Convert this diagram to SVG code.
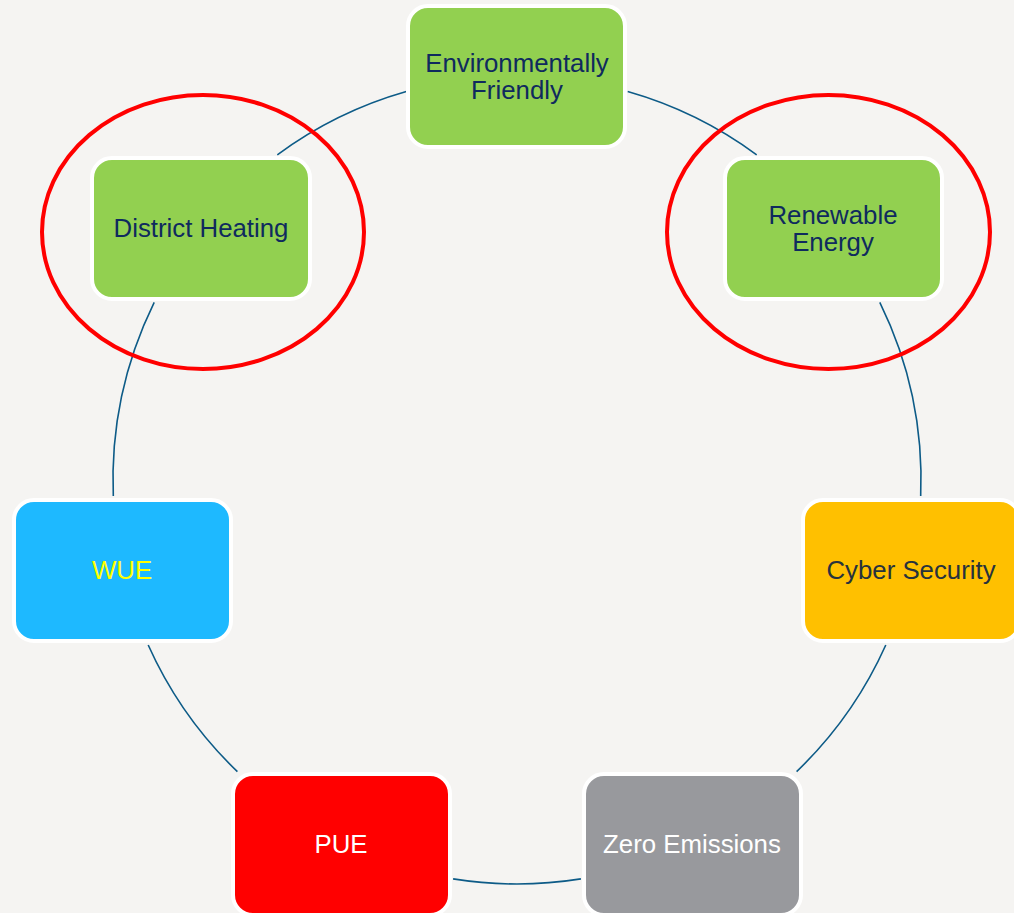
<svg xmlns="http://www.w3.org/2000/svg" width="1014" height="913" viewBox="0 0 1014 913">
<style>
.node{stroke:#ffffff;stroke-width:4}
.lbl{font-family:"Liberation Sans",Arial,sans-serif;font-size:25.8px;text-anchor:middle}
.dark{fill:#0f2a5e}
.arc{fill:none;stroke:#0d5b87;stroke-width:1.6}
.ring{fill:none;stroke:#ff0000;stroke-width:4}
</style>
<rect width="1014" height="913" fill="#f5f4f2"/>
<g id="connectors">
<path class="arc" d="M277.3 154.8 A404 404 0 0 1 406.3 91.5"/>
<path class="arc" d="M627.7 91.5 A404 404 0 0 1 756.7 154.8"/>
<path class="arc" d="M879.8 302.3 A404 404 0 0 1 920.7 496"/>
<path class="arc" d="M885.8 645 A404 404 0 0 1 796.6 771.6"/>
<path class="arc" d="M580.9 878.9 A404 404 0 0 1 453.1 878.9"/>
<path class="arc" d="M237.4 771.6 A404 404 0 0 1 148.2 645"/>
<path class="arc" d="M113.3 496 A404 404 0 0 1 154.2 302.3"/>
</g>
<g id="env">
<rect class="node" x="408" y="6" width="217" height="141" rx="20" fill="#92d050"/>
<text class="lbl dark" x="517" y="72">Environmentally</text>
<text class="lbl dark" x="517" y="99">Friendly</text>
</g>
<g id="district">
<rect class="node" x="92" y="158" width="218" height="141" rx="20" fill="#92d050"/>
<text class="lbl dark" x="201" y="237">District Heating</text>
</g>
<g id="renewable">
<rect class="node" x="725" y="158" width="217" height="141" rx="20" fill="#92d050"/>
<text class="lbl dark" x="833" y="224">Renewable</text>
<text class="lbl dark" x="833" y="251">Energy</text>
</g>
<g id="wue">
<rect class="node" x="14" y="500" width="217" height="141" rx="20" fill="#1eb9ff"/>
<text class="lbl" x="122" y="579" fill="#ffff00">WUE</text>
</g>
<g id="cyber">
<rect class="node" x="803" y="500" width="217" height="141" rx="20" fill="#ffc000"/>
<text class="lbl" x="911" y="579" fill="#27323d">Cyber Security</text>
</g>
<g id="pue">
<rect class="node" x="233" y="774" width="217" height="141" rx="20" fill="#ff0000"/>
<text class="lbl" x="341" y="853" fill="#ffffff">PUE</text>
</g>
<g id="zero">
<rect class="node" x="584" y="774" width="217" height="141" rx="20" fill="#98999d"/>
<text class="lbl" x="692" y="853" fill="#ffffff">Zero Emissions</text>
</g>
<g id="highlights">
<ellipse class="ring" cx="203" cy="232" rx="161" ry="137"/>
<ellipse class="ring" cx="828.5" cy="232" rx="161.5" ry="137"/>
</g>
</svg>
